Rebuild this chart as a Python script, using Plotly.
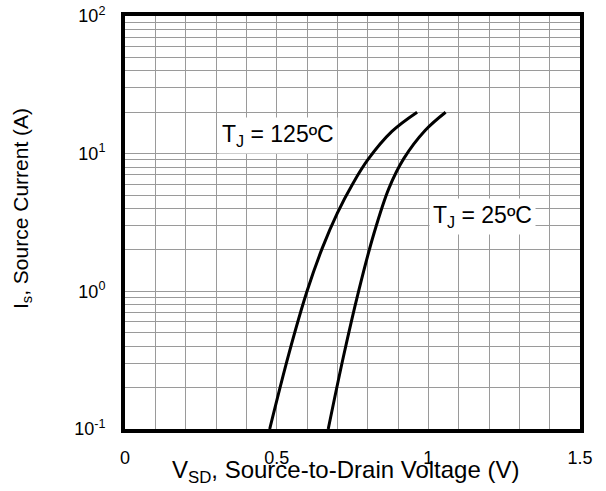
import plotly.graph_objects as go

# Data
v_125 = [0.477, 0.54, 0.60, 0.65, 0.70, 0.75, 0.80, 0.88, 0.963]
i_125 = [0.1, 0.35, 1.0, 2.05, 3.7, 6.0, 9.0, 14.5, 20.0]
v_25 = [0.670, 0.72, 0.77, 0.82, 0.87, 0.919, 0.99, 1.057]
i_25 = [0.1, 0.335, 1.0, 2.6, 5.6, 9.2, 14.8, 20.0]

x_ticks = [0, 0.5, 1, 1.5]
x_tick_labels = ["0", "0.5", "1", "1.5"]
y_ticks = [0.1, 1, 10, 100]
y_tick_labels = ["10<sup>-1</sup>", "10<sup>0</sup>", "10<sup>1</sup>", "10<sup>2</sup>"]
y_minor = [m * d for d in (0.1, 1, 10) for m in range(2, 10)]
x_grid = [round(0.1 * k, 1) for k in range(16)]

FONT = "Arial, Liberation Sans, sans-serif"
GRID = "#9a9a9a"
W, H = 606, 491
ML, MR, MT, MB = 125, 26, 16, 62

fig = go.Figure()
fig.add_trace(go.Scatter(x=v_125, y=i_125, mode="lines", line=dict(color="black", width=3, shape="spline"), showlegend=False))
fig.add_trace(go.Scatter(x=v_25, y=i_25, mode="lines", line=dict(color="black", width=3, shape="spline"), showlegend=False))

fig.update_xaxes(
    range=[0, 1.5], tickvals=x_grid,
    ticktext=[x_tick_labels[x_ticks.index(v)] if v in x_ticks else "" for v in x_grid],
    showgrid=True, gridcolor=GRID, gridwidth=1, zeroline=False,
    showline=True, linecolor="black", linewidth=4, mirror=True,
    ticks="outside", ticklen=9, tickcolor="rgba(0,0,0,0)", automargin=False,
    tickfont=dict(family=FONT, size=18, color="black"),
)
fig.update_yaxes(
    type="log", range=[-1, 2], tickvals=y_ticks, ticktext=y_tick_labels,
    showgrid=True, gridcolor=GRID, gridwidth=1, zeroline=False,
    showline=True, linecolor="black", linewidth=4, mirror=True,
    ticks="outside", ticklen=12, tickcolor="rgba(0,0,0,0)", automargin=False,
    tickfont=dict(family=FONT, size=18, color="black"),
    minor=dict(tickvals=y_minor, showgrid=True, gridcolor=GRID, gridwidth=1, ticks=""),
)

fig.add_annotation(x=0.504, y=1.13, xref="x", yref="y", text="T<sub>J</sub> = 125ºC",
                   showarrow=False, bgcolor="white", font=dict(family=FONT, size=23, color="black"), borderpad=3)
fig.add_annotation(x=1.177, y=0.547, xref="x", yref="y", text="T<sub>J</sub> = 25ºC",
                   showarrow=False, bgcolor="white", font=dict(family=FONT, size=23, color="black"), borderpad=3)


def px_to_paper(px, py):
    return (px - ML) / (W - ML - MR), 1 - (py - MT) / (H - MT - MB)


tx, ty = px_to_paper(345, 471)
fig.add_annotation(x=tx, y=ty, xref="paper", yref="paper", text="V<sub>SD</sub>, Source-to-Drain Voltage (V)",
                   showarrow=False, font=dict(family=FONT, size=24, color="black"), yanchor="middle", xanchor="center")
yx, yy = px_to_paper(22, 209)
fig.add_annotation(x=yx, y=yy, xref="paper", yref="paper", text="I<sub>s</sub>, Source Current (A)",
                   textangle=-90, showarrow=False, font=dict(family=FONT, size=21, color="black"), yanchor="middle", xanchor="center")

fig.update_layout(
    width=W, height=H,
    margin=dict(l=ML, r=MR, t=MT, b=MB),
    paper_bgcolor="white", plot_bgcolor="white",
    font=dict(family=FONT, color="black"),
)

fig.write_html("out.html", config={"displayModeBar": False})
with open("out.html", "r", encoding="utf-8") as f:
    html = f.read()
html = html.replace("<body>", '<body style="margin:0;padding:0;overflow:hidden">', 1)
with open("out.html", "w", encoding="utf-8") as f:
    f.write(html)
